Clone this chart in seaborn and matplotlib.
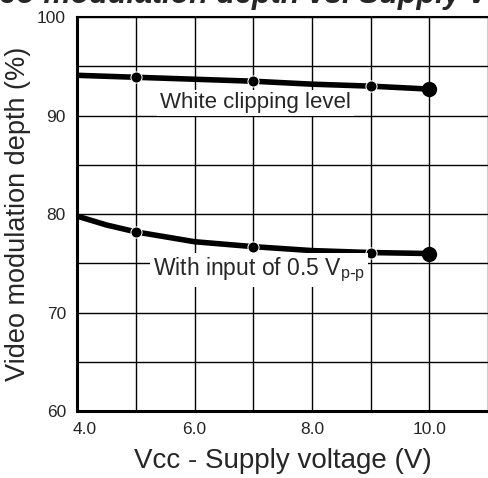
import pandas as pd
import matplotlib.pyplot as plt
import matplotlib.transforms as mtransforms
import seaborn as sns

# values
vcc = [4.0, 4.5, 5.0, 6.0, 7.0, 8.0, 9.0, 10.0]
white_clip = [94.1, 94.0, 93.9, 93.7, 93.5, 93.2, 93.0, 92.7]
input_05 = [79.8, 78.9, 78.2, 77.2, 76.7, 76.3, 76.1, 76.0]
marked = [2, 4, 6, 7]  # measured points shown as dots

x_ticks = [4.0, 6.0, 8.0, 10.0]
x_ticklabels = ["4.0", "6.0", "8.0", "10.0"]
y_ticks = [60, 70, 80, 90, 100]

df = pd.DataFrame({"vcc": vcc, "white": white_clip, "input": input_05})

sns.set_style("white")
plt.rcParams["font.family"] = ["Liberation Sans", "DejaVu Sans"]

fig = plt.figure(figsize=(4.88, 4.78), dpi=100)
ax = fig.add_axes([0.158, 0.140, 0.842, 0.824])

for col in ["white", "input"]:
    sns.lineplot(data=df, x="vcc", y=col, ax=ax, color="black", linewidth=4,
                 marker="o", markersize=8, markevery=marked, zorder=5)
# the last point is drawn a little heavier on the original
ax.plot(vcc[-1], white_clip[-1], "o", color="black", markersize=10, zorder=6)
ax.plot(vcc[-1], input_05[-1], "o", color="black", markersize=10, zorder=6)

ax.set_xlim(4.0, 10.91)
ax.set_ylim(60, 100)
ax.set_xticks(x_ticks)
ax.set_xticklabels(x_ticklabels)
ax.set_yticks(y_ticks)
ax.set_xticks([5, 7, 9, 11], minor=True)
ax.set_yticks([65, 75, 85, 95], minor=True)
ax.grid(True, which="both", color="black", linewidth=1.0)
ax.tick_params(axis="both", which="both", length=0, labelsize=12.5)
ax.tick_params(axis="x", pad=8)
ax.tick_params(axis="y", pad=8)

# first x label sits a bit right of the axis on the original
first = ax.get_xticklabels()[0]
first.set_transform(first.get_transform()
                    + mtransforms.ScaledTranslation(0.08, 0, fig.dpi_scale_trans))

for side in ["left", "bottom", "top"]:
    ax.spines[side].set_color("black")
ax.spines["left"].set_linewidth(2.2)
ax.spines["bottom"].set_linewidth(2.2)
ax.spines["top"].set_linewidth(1.5)
ax.spines["right"].set_visible(False)

ax.set_xlabel("Vcc - Supply voltage (V)", fontsize=20, labelpad=8)
ax.set_ylabel("Video modulation depth (%)", fontsize=19.5, labelpad=4)

ax.text(7.04, 91.3, "White clipping level", fontsize=16, ha="center", va="center",
        bbox=dict(facecolor="white", edgecolor="none", pad=2), zorder=7)
ax.text(7.1, 74.3, r"With input of 0.5 V$_{\mathregular{p\text{-}p}}$", fontsize=16.5,
        ha="center", va="center",
        bbox=dict(facecolor="white", edgecolor="none", pad=2), zorder=7)

# title is cut off by the top edge of the scan
fig.text(-0.096, 1.01, "Video modulation depth vs. Supply voltage", fontsize=22,
         fontweight="bold", fontstyle="italic", ha="left", va="center")

fig.savefig("out.png", dpi=100)
